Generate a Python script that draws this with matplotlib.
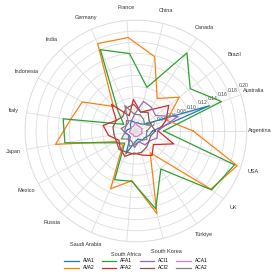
#Radar chart of series per country

import numpy as np
import matplotlib.pyplot as plt

plt.rcParams['font.family'] = ['Liberation Sans', 'DejaVu Sans']

countries = ["Argentina", "Australia", "Brazil", "Canada", "China", "France", "Germany",
             "India", "Indonesia", "Italy", "Japan", "Mexico", "Russia", "Saudi Arabia",
             "South Africa", "South Korea", "Türkiye", "UK", "USA"]

AVA1 = [0.030, 0.140, 0.020, 0.015, 0.015, 0.015, 0.020, 0.015, 0.010, 0.015,
        0.020, 0.015, 0.015, 0.045, 0.020, 0.015, 0.020, 0.020, 0.025]
AVA2 = [0.103, 0.059, 0.099, 0.070, 0.138, 0.169, 0.172, 0.060, 0.110, 0.120,
        0.147, 0.040, 0.035, 0.114, 0.090, 0.154, 0.047, 0.171, 0.193]
AFA1 = [0.050, 0.163, 0.124, 0.168, 0.081, 0.140, 0.160, 0.047, 0.025, 0.133,
        0.130, 0.045, 0.030, 0.096, 0.091, 0.145, 0.082, 0.173, 0.188]
AFA2 = [0.040, 0.057, 0.075, 0.045, 0.035, 0.057, 0.030, 0.065, 0.040, 0.060,
        0.050, 0.035, 0.042, 0.050, 0.040, 0.045, 0.053, 0.040, 0.072]
ACI1 = [0.039, 0.080, 0.045, 0.051, 0.055, 0.030, 0.020, 0.025, 0.020, 0.020,
        0.020, 0.015, 0.020, 0.020, 0.030, 0.020, 0.030, 0.030, 0.040]
ACI2 = [0.035, 0.030, 0.030, 0.040, 0.035, 0.048, 0.045, 0.035, 0.040, 0.042,
        0.040, 0.040, 0.045, 0.042, 0.042, 0.040, 0.035, 0.030, 0.028]
ACA1 = [0.010, 0.012, 0.010, 0.010, 0.010, 0.015, 0.010, 0.010, 0.010, 0.010,
        0.012, 0.010, 0.008, 0.010, 0.010, 0.010, 0.010, 0.010, 0.012]
ACA2 = [0.020, 0.030, 0.020, 0.025, 0.030, 0.030, 0.050, 0.020, 0.020, 0.027,
        0.020, 0.030, 0.020, 0.030, 0.025, 0.020, 0.020, 0.025, 0.020]

series = [("AVA1", AVA1), ("AVA2", AVA2), ("AFA1", AFA1), ("AFA2", AFA2),
          ("ACI1", ACI1), ("ACI2", ACI2), ("ACA1", ACA1), ("ACA2", ACA2)]
r_ticks = [0.02, 0.04, 0.06, 0.08, 0.10, 0.12, 0.14, 0.16, 0.18, 0.20]

angles = np.linspace(0, 2 * np.pi, len(countries), endpoint=False)
closed = np.append(angles, angles[0])

fig = plt.figure(figsize=(2.78, 2.78), dpi=100)
ax = fig.add_axes([0.090, 0.130, 0.798, 0.798], projection='polar')

for name, vals in series:
    ax.plot(closed, np.append(vals, vals[0]), '-', lw=0.9, label=name)

#grid and labels
ax.set_ylim(0, 0.20)
ax.set_yticks(r_ticks)
ax.set_yticklabels(["%.2f" % t for t in r_ticks], fontsize=3.6, color='#444444')
ax.set_rlabel_position(22.5)
ax.set_xticks(angles)
ax.set_xticklabels(countries, fontsize=4, color='#333333')
ax.tick_params(axis='x', pad=-1)
ax.grid(True, color='#dddddd', lw=0.6)
ax.spines['polar'].set_color('#dddddd')
ax.spines['polar'].set_linewidth(0.6)

ax.legend(loc='upper center', bbox_to_anchor=(0.5, -0.055), ncol=4, fontsize=3.5,
          frameon=False, handlelength=3, columnspacing=1.5, labelspacing=0.4)

fig.savefig('out.png', dpi=100)
